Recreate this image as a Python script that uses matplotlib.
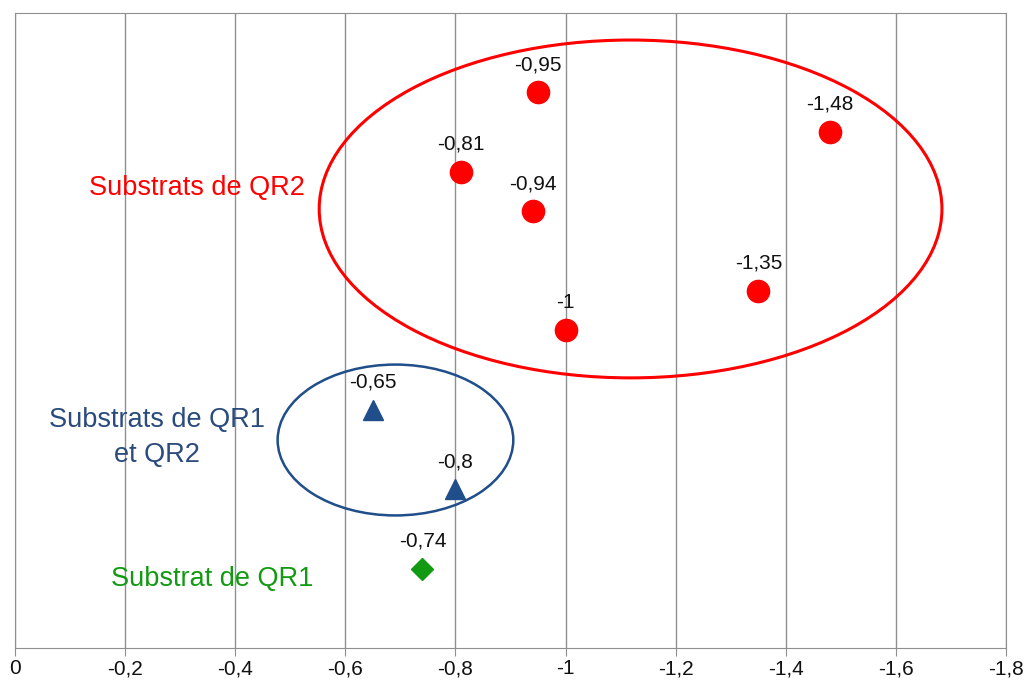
import matplotlib
matplotlib.use('Agg')
import matplotlib.pyplot as plt
from matplotlib.patches import Ellipse

plt.rcParams['font.family'] = ['Liberation Sans', 'DejaVu Sans']

# data: x value and vertical rank of each substrate
qr2_x = [-0.95, -1.48, -0.81, -0.94, -1.35, -1.0]
qr2_y = [14, 13, 12, 11, 9, 8]
qr12_x = [-0.65, -0.8]
qr12_y = [6, 4]
qr1_x = [-0.74]
qr1_y = [2]
x_ticks = [0, -0.2, -0.4, -0.6, -0.8, -1.0, -1.2, -1.4, -1.6, -1.8]

red = '#ff0000'
blue = '#1f4e8a'
green = '#129a12'


def fmt(v):
    return ('%g' % v).replace('.', ',')


fig = plt.figure(figsize=(10.26, 6.83), dpi=100)
ax = fig.add_axes([0.0146, 0.0512, 0.966, 0.930])

ax.set_xlim(0, -1.8)
ax.set_ylim(0, 16)
ax.set_xticks(x_ticks)
ax.set_xticklabels([fmt(t) for t in x_ticks], fontsize=15, color='#111111')
ax.set_yticks([])
ax.grid(True, axis='x', color='#8f8f8f', linewidth=1)
ax.set_axisbelow(True)
for s in ax.spines.values():
    s.set_color('#8f8f8f')
ax.tick_params(axis='x', length=6, color='#8f8f8f', pad=2)

ax.plot(qr2_x, qr2_y, 'o', color=red, markersize=16, zorder=3)
ax.plot(qr12_x, qr12_y, '^', color=blue, markersize=15, zorder=3)
ax.plot(qr1_x, qr1_y, 'D', color=green, markersize=11, zorder=3)

for xs, ys in [(qr2_x, qr2_y), (qr12_x, qr12_y), (qr1_x, qr1_y)]:
    for x, y in zip(xs, ys):
        ax.annotate(fmt(x), (x, y), xytext=(0, 16), textcoords='offset points',
                    ha='center', va='baseline', fontsize=15, color='#111111')

ax.add_patch(Ellipse((-1.118, 11.06), 1.131, 8.51, fill=False, edgecolor=red, linewidth=2.2, zorder=2))
ax.add_patch(Ellipse((-0.691, 5.24), 0.428, 3.80, fill=False, edgecolor=blue, linewidth=1.8, zorder=2))

ax.text(-0.331, 11.6, 'Substrats de QR2', color=red, fontsize=19.5, ha='center', va='center')
ax.text(-0.258, 5.3, 'Substrats de QR1\net QR2', color='#2a4b7c', fontsize=19.5, ha='center', va='center',
        linespacing=1.45)
ax.text(-0.358, 1.75, 'Substrat de QR1', color=green, fontsize=19.5, ha='center', va='center')

plt.savefig('out.png', dpi=100)
